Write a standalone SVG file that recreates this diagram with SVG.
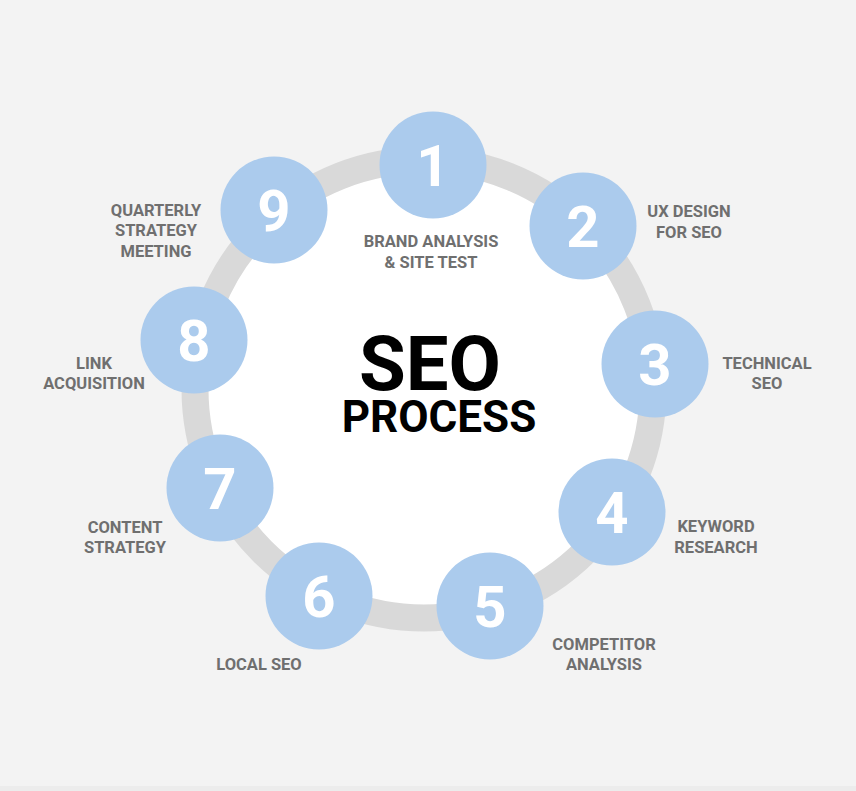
<svg xmlns="http://www.w3.org/2000/svg" width="856" height="791" viewBox="0 0 856 791">
<style>
.bg{fill:#f3f3f3}
.ring{fill:#ffffff;stroke:#d9d9d9;stroke-width:27}
.dot{fill:#abcbed}
.num{font-family:Roboto,"Liberation Sans",sans-serif;font-weight:700;font-size:58px;fill:#ffffff;text-anchor:middle}
.lbl{font-family:Roboto,"Liberation Sans",sans-serif;font-weight:700;font-size:16.5px;fill:#6f6f6f;text-anchor:middle}
.title{font-family:Roboto,"Liberation Sans",sans-serif;font-weight:700;fill:#000000;text-anchor:middle}
</style>
<rect class="bg" x="0" y="0" width="856" height="791"/>
<rect x="0" y="786" width="856" height="5" fill="#ececec"/>
<g id="connectors">
<circle class="ring" cx="424" cy="389" r="229"/>
</g>
<g id="title">
<text class="title" x="430" y="390" font-size="76">SEO</text>
<text class="title" x="439" y="432" font-size="44">PROCESS</text>
</g>
<g id="node1">
<circle class="dot" cx="433" cy="165" r="53.5"/>
<text class="num" x="433" y="186">1</text>
<text class="lbl" x="431" y="247">BRAND ANALYSIS</text>
<text class="lbl" x="431" y="268">&amp; SITE TEST</text>
</g>
<g id="node2">
<circle class="dot" cx="583" cy="226" r="53.5"/>
<text class="num" x="583" y="247">2</text>
<text class="lbl" x="689" y="217">UX DESIGN</text>
<text class="lbl" x="689" y="238">FOR SEO</text>
</g>
<g id="node3">
<circle class="dot" cx="655" cy="364" r="53.5"/>
<text class="num" x="655" y="385">3</text>
<text class="lbl" x="767" y="369">TECHNICAL</text>
<text class="lbl" x="767" y="389">SEO</text>
</g>
<g id="node4">
<circle class="dot" cx="612" cy="512" r="53.5"/>
<text class="num" x="612" y="533">4</text>
<text class="lbl" x="716" y="532">KEYWORD</text>
<text class="lbl" x="716" y="553">RESEARCH</text>
</g>
<g id="node5">
<circle class="dot" cx="490" cy="606" r="53.5"/>
<text class="num" x="490" y="627">5</text>
<text class="lbl" x="604" y="650">COMPETITOR</text>
<text class="lbl" x="604" y="670">ANALYSIS</text>
</g>
<g id="node6">
<circle class="dot" cx="319" cy="596" r="53.5"/>
<text class="num" x="319" y="617">6</text>
<text class="lbl" x="259" y="670">LOCAL SEO</text>
</g>
<g id="node7">
<circle class="dot" cx="220" cy="488" r="53.5"/>
<text class="num" x="220" y="509">7</text>
<text class="lbl" x="125" y="533">CONTENT</text>
<text class="lbl" x="125" y="553">STRATEGY</text>
</g>
<g id="node8">
<circle class="dot" cx="194" cy="340" r="53.5"/>
<text class="num" x="194" y="361">8</text>
<text class="lbl" x="94" y="369">LINK</text>
<text class="lbl" x="94" y="389">ACQUISITION</text>
</g>
<g id="node9">
<circle class="dot" cx="274" cy="210" r="53.5"/>
<text class="num" x="274" y="231">9</text>
<text class="lbl" x="156" y="216">QUARTERLY</text>
<text class="lbl" x="156" y="236">STRATEGY</text>
<text class="lbl" x="156" y="257">MEETING</text>
</g>
</svg>
